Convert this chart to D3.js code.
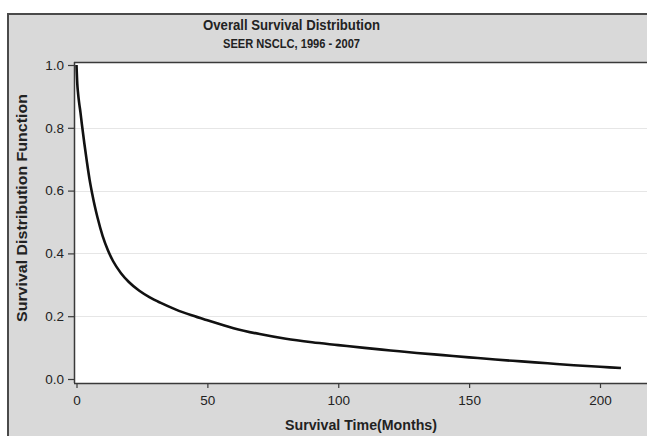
<!DOCTYPE html>
<html>
<head>
<meta charset="utf-8">
<script src="https://cdn.jsdelivr.net/npm/d3@7"></script>
<style>
  html, body { margin: 0; padding: 0; background: #fff; }
  svg { display: block; }
  text { font-family: "Liberation Sans", Arial, Helvetica, sans-serif; fill: #222; }
</style>
</head>
<body>
<svg id="chart" width="647" height="436"></svg>
<script>
const titleText = "Overall Survival Distribution";
const subtitleText = "SEER NSCLC, 1996 - 2007";
const xAxisTitle = "Survival Time(Months)";
const yAxisTitle = "Survival Distribution Function";

const months = [0, 0.3, 0.6, 1, 1.5, 2, 3, 4, 5, 6, 7, 8, 10, 12, 14, 17, 20, 24, 28, 32, 38, 44, 50, 60, 70, 80, 90, 100, 110, 120, 130, 140, 150, 160, 170, 180, 190, 200, 208];
const survival = [1.0, 0.94, 0.91, 0.88, 0.85, 0.815, 0.75, 0.69, 0.635, 0.59, 0.55, 0.515, 0.455, 0.41, 0.375, 0.337, 0.309, 0.281, 0.26, 0.243, 0.221, 0.203, 0.187, 0.162, 0.143, 0.128, 0.117, 0.108, 0.099, 0.091, 0.083, 0.076, 0.069, 0.062, 0.056, 0.05, 0.044, 0.039, 0.035];

const xTicks = [0, 50, 100, 150, 200];
const yTicks = [0.0, 0.2, 0.4, 0.6, 0.8, 1.0];
const gridTicks = [0.2, 0.4, 0.6, 0.8];

const svg = d3.select("#chart");

// outer gray panel
svg.append("rect")
  .attr("x", 8).attr("y", 14)
  .attr("width", 660).attr("height", 440)
  .attr("fill", "#d9d9d9")
  .attr("stroke", "#4a4a4a").attr("stroke-width", 2);

const plot = { left: 74, top: 62, right: 648, bottom: 383 };

const x = d3.scaleLinear().domain([0, 200]).range([76.5, 600]);
const y = d3.scaleLinear().domain([0, 1]).range([379, 65]);

// plot background
svg.append("rect")
  .attr("x", plot.left).attr("y", plot.top)
  .attr("width", plot.right - plot.left).attr("height", plot.bottom - plot.top)
  .attr("fill", "#ffffff");

// gridlines
svg.append("g").selectAll("line").data(gridTicks).join("line")
  .attr("x1", plot.left).attr("x2", plot.right)
  .attr("y1", d => Math.round(y(d)) + 0.5).attr("y2", d => Math.round(y(d)) + 0.5)
  .attr("stroke", "#e6e6e6").attr("stroke-width", 1);

// frame: left and top lines dark
svg.append("line")
  .attr("x1", plot.left + 0.5).attr("x2", plot.left + 0.5)
  .attr("y1", plot.top).attr("y2", plot.bottom)
  .attr("stroke", "#3a3a3a").attr("stroke-width", 1.5);
svg.append("line")
  .attr("x1", plot.left).attr("x2", plot.right)
  .attr("y1", plot.top + 0.5).attr("y2", plot.top + 0.5)
  .attr("stroke", "#3a3a3a").attr("stroke-width", 1.5);

// y axis
const yAxis = d3.axisLeft(y).tickValues(yTicks).tickFormat(d3.format(".1f")).tickSize(6).tickPadding(4);
const gy = svg.append("g").attr("transform", `translate(${plot.left},0)`).call(yAxis);
gy.attr("font-size", 13.5).attr("font-family", "Liberation Sans, Arial, sans-serif");
gy.select(".domain").remove();
gy.selectAll(".tick line").attr("stroke", "#3a3a3a").attr("stroke-width", 1.2);
gy.selectAll(".tick text").attr("fill", "#2a2a2a");

// x axis
const xAxis = d3.axisBottom(x).tickValues(xTicks).tickFormat(d3.format("d")).tickSize(5).tickPadding(7);
const gx = svg.append("g").attr("transform", `translate(0,${plot.bottom})`).call(xAxis);
gx.attr("font-size", 13.5).attr("font-family", "Liberation Sans, Arial, sans-serif");
gx.select(".domain").remove();
gx.append("line").attr("x1", plot.left).attr("x2", plot.right).attr("y1", 0.5).attr("y2", 0.5)
  .attr("stroke", "#3a3a3a").attr("stroke-width", 1.5);
gx.selectAll(".tick line").attr("stroke", "#3a3a3a").attr("stroke-width", 1.2);
gx.selectAll(".tick text").attr("fill", "#2a2a2a");

// curve
const line = d3.line()
  .x((d, i) => x(months[i]))
  .y((d, i) => y(survival[i]))
  .curve(d3.curveMonotoneX);
svg.append("path")
  .datum(survival)
  .attr("d", line)
  .attr("fill", "none")
  .attr("stroke", "#111")
  .attr("stroke-width", 2.6)
  .attr("stroke-linejoin", "round");

// titles
svg.append("text").attr("x", 291.5).attr("y", 30)
  .attr("text-anchor", "middle").attr("font-size", 15.5).attr("font-weight", "bold")
  .attr("textLength", 177).attr("lengthAdjust", "spacingAndGlyphs")
  .text(titleText);
svg.append("text").attr("x", 291.5).attr("y", 48)
  .attr("text-anchor", "middle").attr("font-size", 13.5).attr("font-weight", "bold")
  .attr("textLength", 137).attr("lengthAdjust", "spacingAndGlyphs")
  .text(subtitleText);

// axis titles
svg.append("text").attr("x", 361).attr("y", 430)
  .attr("text-anchor", "middle").attr("font-size", 14).attr("font-weight", "bold")
  .attr("textLength", 152).attr("lengthAdjust", "spacingAndGlyphs")
  .text(xAxisTitle);
svg.append("text")
  .attr("transform", "translate(27,208) rotate(-90)")
  .attr("text-anchor", "middle").attr("font-size", 14).attr("font-weight", "bold")
  .attr("textLength", 228).attr("lengthAdjust", "spacingAndGlyphs")
  .text(yAxisTitle);
</script>
</body>
</html>
